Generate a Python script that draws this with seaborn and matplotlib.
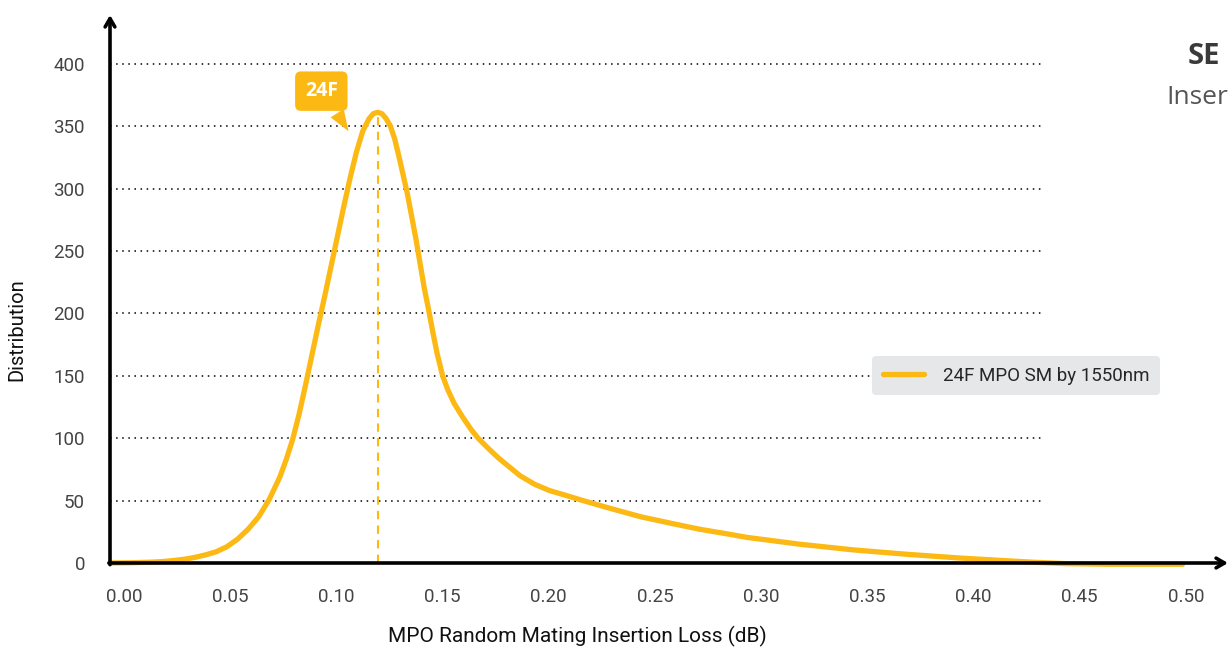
import matplotlib
matplotlib.use("Agg")
import matplotlib.pyplot as plt
import matplotlib.transforms as mtransforms
import seaborn as sns

# values
loss_db = [0.000, 0.010, 0.020, 0.025, 0.030, 0.035, 0.040, 0.045, 0.050, 0.055,
           0.060, 0.065, 0.070, 0.075, 0.080, 0.083, 0.086, 0.089, 0.092, 0.095,
           0.098, 0.101, 0.104, 0.107, 0.110, 0.113, 0.116, 0.119, 0.122, 0.124,
           0.126, 0.128, 0.130, 0.132, 0.134, 0.136, 0.138, 0.140, 0.142, 0.144,
           0.146, 0.148, 0.150, 0.152, 0.154, 0.1566, 0.159, 0.162, 0.166, 0.170,
           0.1733, 0.178, 0.183, 0.188, 0.193, 0.200, 0.207, 0.215, 0.2227, 0.235,
           0.250, 0.265, 0.2778, 0.290, 0.300, 0.325, 0.350, 0.375, 0.400, 0.420,
           0.435, 0.450, 0.470, 0.490, 0.505]
distribution = [0, 0.2, 0.7, 1.2, 2, 3, 4.5, 6.5, 9, 13,
                19, 27, 37, 51, 69, 83, 99, 119, 142, 166,
                190, 213, 237, 261, 285, 308, 329, 346, 356, 360,
                361, 360, 356, 350, 340, 326, 311, 296, 278, 260,
                240, 220, 203, 185, 168, 150, 139, 128, 117, 107,
                100, 92, 84, 77, 70, 63, 58, 54, 50, 44,
                37, 31.5, 27, 23.5, 20.5, 15, 10.5, 7, 4, 2,
                0.6, -0.5, -1, -1, -1]
peak_loss = 0.126
peak_value = 360
series_name = "24F MPO SM by 1550nm"
callout_text = "24F"
x_ticks = [0.00, 0.05, 0.10, 0.15, 0.20, 0.25, 0.30, 0.35, 0.40, 0.45, 0.50]
y_ticks = [0, 50, 100, 150, 200, 250, 300, 350, 400]

YELLOW = "#FDB913"

sns.set_style("white")
plt.rcParams["font.family"] = ["Roboto", "DejaVu Sans"]

fig = plt.figure(figsize=(12.3, 6.48), dpi=100)
ax = fig.add_axes([110 / 1230, 85 / 648, 1118 / 1230, 548 / 648])
ax.set_xlim(0, 0.5264)
ax.set_ylim(0, 439)

# dotted horizontal grid, stops short of the right edge
for yv in y_ticks[1:]:
    ax.hlines(yv, 0, 0.44, colors="black", linestyles=(0, (1, 3)), lw=1.1, zorder=1)

sns.lineplot(x=loss_db, y=distribution, ax=ax, color=YELLOW, lw=3.8,
             label=series_name, sort=True, zorder=3, clip_on=False)
ax.lines[-1].set_solid_joinstyle("round")
ax.lines[-1].set_solid_capstyle("round")

# dashed marker at the peak
ax.vlines(peak_loss, 0, peak_value, colors=YELLOW, linestyles=(0, (4, 3)), lw=1.5, zorder=2)

# callout box
ax.annotate(callout_text, xy=(0.113, 344), xytext=(0.0995, 378),
            ha="center", va="center", color="white", fontsize=14, fontweight="bold",
            family=["Open Sans", "DejaVu Sans"],
            bbox=dict(boxstyle="round,pad=0.5,rounding_size=0.3", fc=YELLOW, ec="none"),
            arrowprops=dict(arrowstyle="wedge,tail_width=0.8,shrink_factor=0.5",
                            fc=YELLOW, ec="none", relpos=(0.75, 0.0)),
            zorder=4)

# axes drawn as arrows
for s in ax.spines.values():
    s.set_visible(False)
ax.annotate("", xy=(1.0, 0), xytext=(-0.001, 0), xycoords="axes fraction",
            arrowprops=dict(arrowstyle="->,head_length=0.6,head_width=0.35", lw=2.6,
                            color="black", shrinkA=0, shrinkB=0), zorder=5)
ax.annotate("", xy=(0, 1.0), xytext=(0, -0.003), xycoords="axes fraction",
            arrowprops=dict(arrowstyle="->,head_length=0.6,head_width=0.35", lw=2.6,
                            color="black", shrinkA=0, shrinkB=0), zorder=5)

ax.set_xticks(x_ticks)
ax.set_xticklabels([f"{v:.2f}" for v in x_ticks])
ax.set_yticks(y_ticks)
ax.set_yticklabels([str(v) for v in y_ticks])
ax.tick_params(axis="both", direction="in", length=10, width=2, color="black",
               labelsize=13.5, labelcolor="#444444")
ax.tick_params(axis="x", pad=18)
ax.tick_params(axis="y", pad=18)
offset = mtransforms.ScaledTranslation(0.14, 0, fig.dpi_scale_trans)
for lab in ax.get_xticklabels():
    lab.set_transform(lab.get_transform() + offset)

ax.set_xlabel("MPO Random Mating Insertion Loss (dB)", fontsize=15, color="#111111")
ax.set_ylabel("Distribution", fontsize=14.5, color="#111111")
ax.xaxis.set_label_coords(0.4177, -0.115)
ax.yaxis.set_label_coords(-0.075, 0.425)

leg = ax.legend(loc="center", bbox_to_anchor=(0.8104, 0.342), frameon=True,
                fontsize=13.5, handlelength=2.2, handletextpad=1.0,
                borderpad=0.55, fancybox=True)
leg.get_frame().set_facecolor("#E6E7E8")
leg.get_frame().set_edgecolor("none")
leg.get_frame().set_alpha(1)

# title text cut off at the right edge in the reference
fig.text(1188 / 1230, 1 - 56 / 648, "SE", fontsize=21, fontweight="bold",
         color="#3a3a3a", family=["Open Sans", "DejaVu Sans"], va="center", ha="left")
fig.text(1166 / 1230, 1 - 97 / 648, "Inser", fontsize=19,
         color="#555555", family=["Open Sans", "DejaVu Sans"], va="center", ha="left")

fig.savefig("out.png", dpi=100)
